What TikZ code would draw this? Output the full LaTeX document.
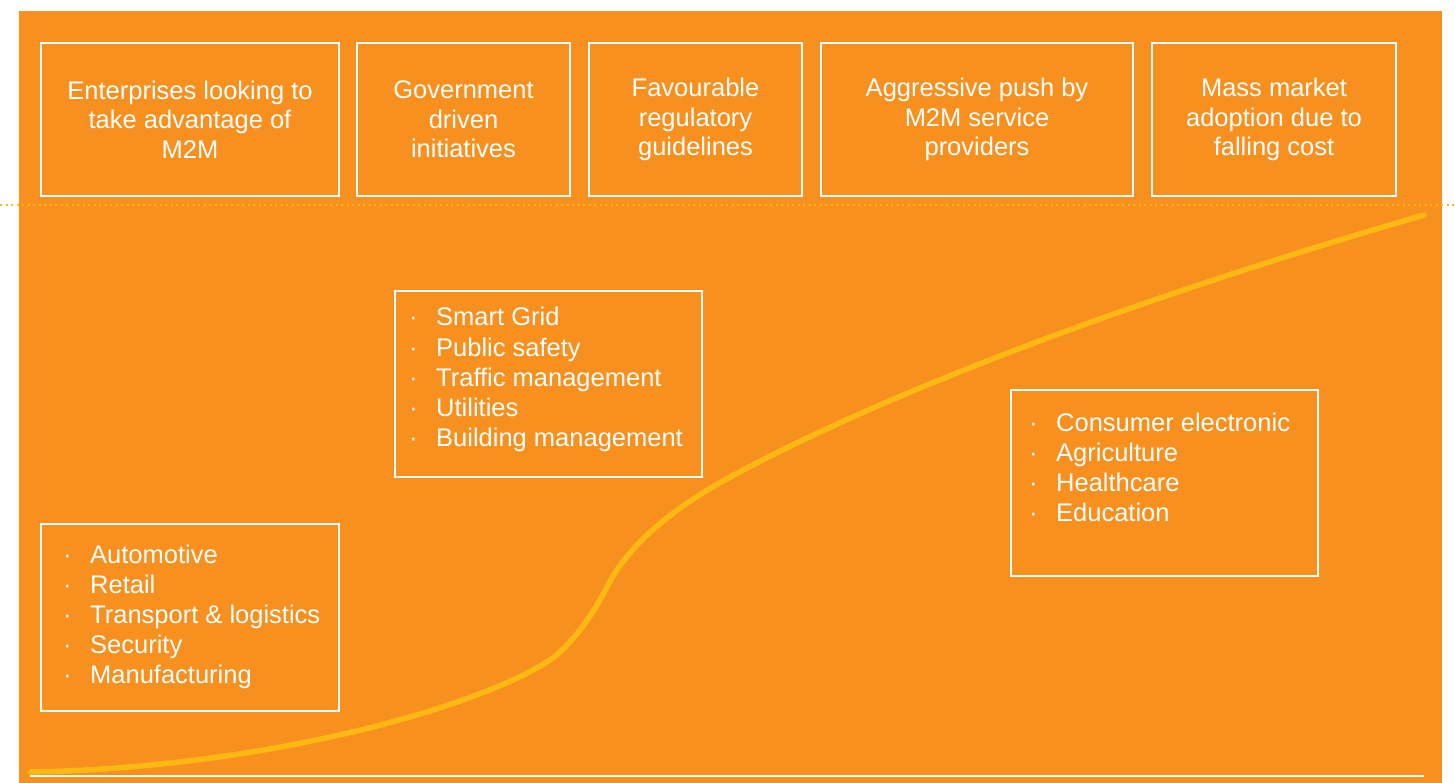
\documentclass[tikz,border=0pt]{standalone}
\usepackage{fontspec}
\setmainfont{Liberation Sans}
\definecolor{bgorange}{RGB}{247,144,30}
\definecolor{curveyellow}{RGB}{253,185,19}
\begin{document}
\begin{tikzpicture}[x=1pt,y=-1pt,
  box/.style={draw=white, line width=2pt, inner sep=0pt, text=white, align=center,
    font=\fontsize{25.5}{29.5}\selectfont},
  item/.style={anchor=base west, inner sep=0pt, text=white, font=\fontsize{25.5}{30}\selectfont},
  growth/.style={draw=curveyellow, line width=5.5pt, line cap=round},
  dotline/.style={draw=curveyellow, line width=2.2pt, dash pattern=on 2.2pt off 3.3pt},
  axis/.style={draw=white, line width=2.5pt}]
\useasboundingbox (0,0) rectangle (1455,783);
\fill[bgorange] (19,11) rectangle (1442,783);

% dotted separator
\coordinate (dl) at (0,205);
\coordinate (dr) at (1455,205);
\draw[dotline] (dl) -- (dr);

% top boxes
\node[box, minimum width=298pt, minimum height=153pt] (t1) at (190,119.5) {Enterprises looking to\\take advantage of\\M2M};
\node[box, minimum width=213pt, minimum height=153pt] (t2) at (463.5,119.5) {Government\\driven\\initiatives};
\node[box, minimum width=213pt, minimum height=153pt] (t3) at (695.5,119.5) {Favourable\\regulatory\\guidelines};
\node[box, minimum width=312pt, minimum height=153pt] (t4) at (977,119.5) {Aggressive push by\\M2M service\\providers};
\node[box, minimum width=244pt, minimum height=153pt] (t5) at (1274,119.5) {Mass market\\adoption due to\\falling cost};

% axis line
\coordinate (a0) at (30,776);
\coordinate (a1) at (1424,776);
\draw[axis] (a0) -- (a1);

% growth curve
\coordinate (g0) at (30,772);
\coordinate (g1) at (547,662);
\coordinate (g2) at (607,587);
\coordinate (g3) at (723,481);
\coordinate (g4) at (1424,215);
\draw[growth] (g0) .. controls (260,768) and (470,710) .. (g1)
  .. controls (572,646) and (595,611) .. (g2)
  .. controls (627,547) and (668,512) .. (g3)
  .. controls (923,371) and (1224,273) .. (g4);

% bullet boxes
\node[box, minimum width=298pt, minimum height=187pt] (b1) at (190,617.5) {};
\node[box, minimum width=307pt, minimum height=186pt] (b2) at (548.5,384) {};
\node[box, minimum width=307pt, minimum height=186pt] (b3) at (1164.5,483) {};

\foreach \t [count=\i] in {Automotive, Retail, Transport \& logistics, Security, Manufacturing}
  \node[item, name=l\i] at (63,{563+30*(\i-1)}) {\makebox[27pt][l]{·}\t};
\foreach \t [count=\i] in {Smart Grid, Public safety, Traffic management, Utilities, Building management}
  \node[item, name=m\i] at (409,{326+30*(\i-1)}) {\makebox[27pt][l]{·}\t};
\foreach \t [count=\i] in {Consumer electronic, Agriculture, Healthcare, Education}
  \node[item, name=r\i] at (1029,{431+30.3*(\i-1)}) {\makebox[27pt][l]{·}\t};
\end{tikzpicture}
\end{document}
